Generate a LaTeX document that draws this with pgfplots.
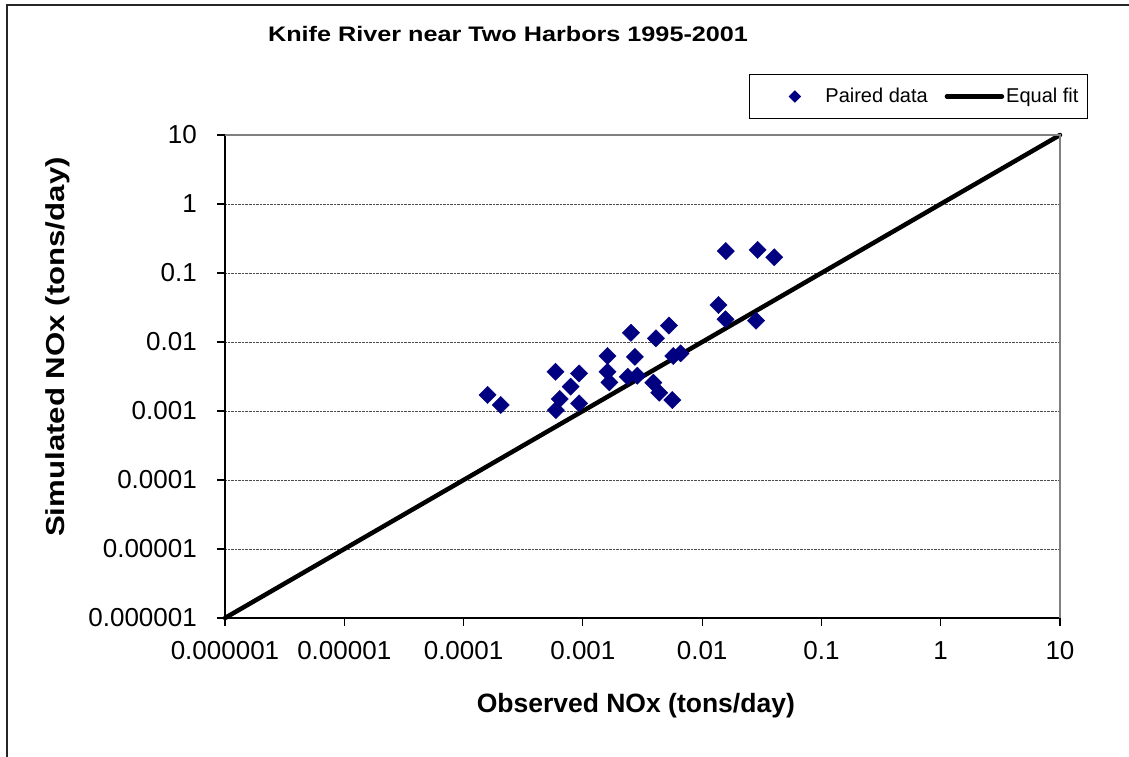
\documentclass[border=0pt]{standalone}
\usepackage{fontspec}
\setmainfont{Liberation Sans}
\newfontfamily\titlefont[FakeStretch=1.2]{Liberation Sans}
\newfontfamily\ylabfont[FakeStretch=1.2]{Liberation Sans}
\usepackage{pgfplots}
\pgfplotsset{compat=1.18}
\definecolor{navy}{RGB}{0,0,128}
\begin{document}
\begin{tikzpicture}
\path[use as bounding box] (0,0) rectangle (1129bp,757bp);
\draw[line width=1.3bp, black!85] (7bp,0bp) -- (7bp,752bp) -- (1129bp,752bp);
\begin{loglogaxis}[
  at={(225bp,139bp)}, anchor=south west,
  scale only axis, width=835bp, height=483bp,
  xmin=1e-6, xmax=10, ymin=1e-6, ymax=10,
  axis x line*=bottom, axis y line*=left,
  axis line style={line width=1.2bp, black},
  xtick={1e-6,1e-5,1e-4,1e-3,1e-2,1e-1,1,10},
  ytick={1e-6,1e-5,1e-4,1e-3,1e-2,1e-1,1,10},
  xticklabels={0.000001,0.00001,0.0001,0.001,0.01,0.1,1,10},
  yticklabels={0.000001,0.00001,0.0001,0.001,0.01,0.1,1,10},
  xminorticks=false, yminorticks=false,
  tick align=outside, major tick length=8bp,
  tick style={line width=1.2bp, black},
  /pgf/number format/assume math mode=true,
  ticklabel style={font=\fontsize{26bp}{30bp}\selectfont, inner sep=0pt},
  xticklabel style={yshift=-15bp},
  yticklabel style={xshift=-20bp},
  ymajorgrids, major grid style={densely dotted, line width=1bp, black!70},
  xlabel={\bfseries Observed NOx (tons/day)},
  xlabel style={font=\fontsize{26.5bp}{30bp}\selectfont, at={(axis description cs:0.492,-0.182)}, anchor=center},
  ylabel={\ylabfont\bfseries Simulated NOx (tons/day)},
  ylabel style={font=\fontsize{26bp}{30bp}\selectfont, at={(axis description cs:-0.2,0.561)}, anchor=center, rotate=0},
  legend columns=2,
  legend style={at={(axis description cs:1.0335,1.1263)}, anchor=north east,
    draw=black, line width=1bp, font=\fontsize{20bp}{24bp}\selectfont,
    inner xsep=7bp, inner ysep=12bp,
    /tikz/every even column/.append style={column sep=15bp}},
  clip=false,
]
\addplot[only marks, mark=square*, mark size=6.1bp, mark options={rotate=45, fill=navy, draw=navy},
  legend image code/.code={\path (-38bp,0bp) (28bp,0bp); \fill[navy] (0bp,5.5bp) -- (5.5bp,0bp) -- (0bp,-5.5bp) -- (-5.5bp,0bp) -- cycle;}]
  coordinates {
  (1.59e-4,1.71e-3) (2.05e-4,1.22e-3) (5.9e-4,3.7e-3) (9.3e-4,3.5e-3)
  (7.9e-4,2.25e-3) (6.4e-4,1.49e-3) (5.95e-4,1.03e-3) (9.3e-4,1.29e-3)
  (1.61e-3,6.27e-3) (1.61e-3,3.7e-3) (1.67e-3,2.6e-3) (2.53e-3,1.36e-2)
  (2.73e-3,6.1e-3) (2.38e-3,3.14e-3) (2.86e-3,3.25e-3) (4.1e-3,1.13e-2)
  (5.27e-3,1.73e-2) (3.9e-3,2.57e-3) (4.37e-3,1.84e-3) (5.62e-3,1.44e-3)
  (5.73e-3,6.27e-3) (6.6e-3,6.86e-3) (1.37e-2,3.44e-2) (1.57e-2,2.13e-2)
  (2.83e-2,2.04e-2) (1.58e-2,0.208) (2.92e-2,0.216) (4.02e-2,0.169)
  };
\addlegendentry{Paired data}
\addplot[black, line width=4.5bp, line cap=round,
  legend image code/.code={\draw[black, line width=4.5bp, line cap=round] (0bp,0bp) -- (55bp,0bp);}]
  coordinates {(1e-6,1e-6) (10,10)};
\addlegendentry{Equal fit}
\draw[black!50, line width=1.2bp] (rel axis cs:0,1) -- (rel axis cs:1,1) -- (rel axis cs:1,0);
\node[font=\titlefont\bfseries\fontsize{21bp}{24bp}\selectfont, anchor=center] at (axis description cs:0.339,1.210) {Knife River near Two Harbors 1995-2001};
\end{loglogaxis}
\end{tikzpicture}
\end{document}
